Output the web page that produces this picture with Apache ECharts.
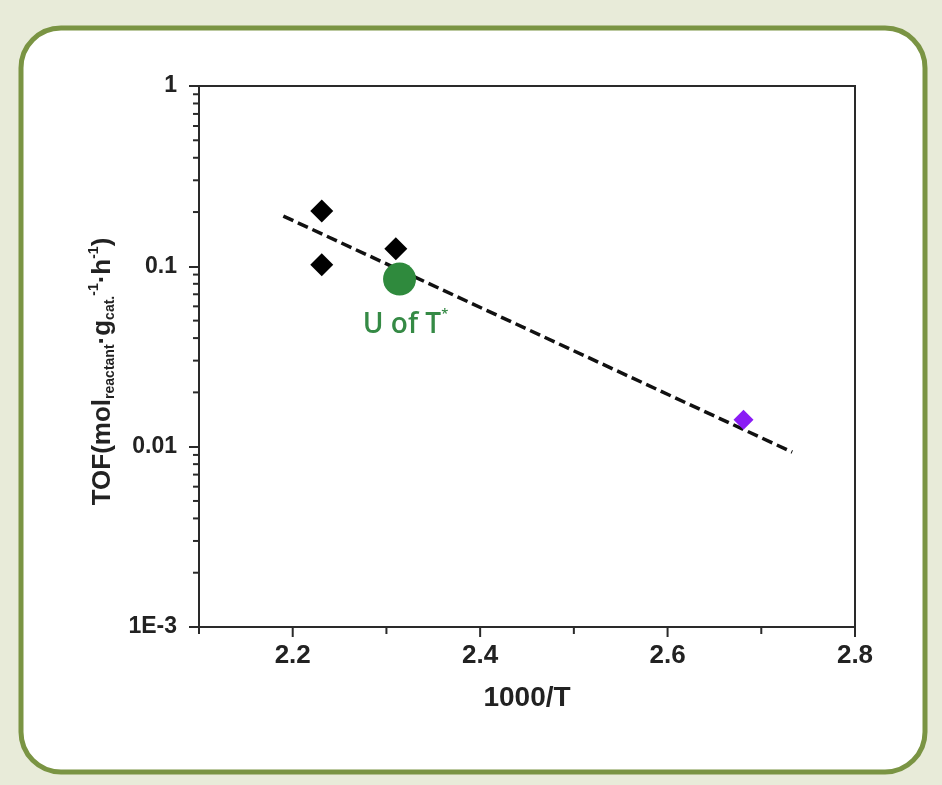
<!DOCTYPE html>
<html>
<head>
<meta charset="utf-8">
<script src="https://cdn.jsdelivr.net/npm/echarts@6/dist/echarts.min.js"></script>
<style>
html,body{margin:0;padding:0;background:#e8ebd9;}
#chart{width:942px;height:785px;}
</style>
</head>
<body>
<div id="chart"></div>
<script>
// ---- data ----
var blackX = [2.231, 2.231, 2.310];
var blackY = [0.203, 0.102, 0.125];
var greenX = [2.314];
var greenY = [0.085];
var purpleX = [2.681];
var purpleY = [0.0141];
var fitX = [2.190, 2.733];
var fitY = [0.190, 0.00933];
var xMajorTicks = [2.2, 2.4, 2.6, 2.8];
var xMinorTicks = [2.1, 2.3, 2.5, 2.7];
var yTickValues = [1, 0.1, 0.01, 0.001];
var yTickLabels = ['1', '0.1', '0.01', '1E-3'];
var yMinorValues = [];
[0.001, 0.01, 0.1].forEach(function (d) {
  for (var k = 2; k <= 9; k++) yMinorValues.push(d * k);
});

function zip(a, b) { return a.map(function (v, i) { return [v, b[i]]; }); }

var chart = echarts.init(document.getElementById('chart'), null, {renderer: 'canvas'});
var FONT = 'Liberation Sans';
var AX = '#2a2a2a';

var tickData = []
  .concat(xMajorTicks.map(function (v) { return [v, 0.001, 10, 0]; }))
  .concat(xMinorTicks.map(function (v) { return [v, 0.001, 7, 0]; }))
  .concat(yMinorValues.map(function (v) { return [2.1, v, 6, 1]; }));

var option = {
  backgroundColor: '#e8ebd9',
  animation: false,
  textStyle: {fontFamily: FONT},
  graphic: {
    elements: [{
      type: 'rect',
      z: -100,
      silent: true,
      shape: {x: 21, y: 28, width: 904, height: 744, r: 40},
      style: {fill: '#ffffff', stroke: '#7a9443', lineWidth: 5}
    }]
  },
  grid: {
    left: 199, right: 87, top: 86, bottom: 158,
    show: true, borderColor: AX, borderWidth: 2, backgroundColor: 'transparent'
  },
  xAxis: {
    type: 'value', min: 2.1, max: 2.8, interval: 0.1,
    name: '1000/T', nameLocation: 'middle', nameGap: 57,
    nameTextStyle: {fontFamily: FONT, fontWeight: 'bold', fontSize: 28, color: '#222'},
    axisLine: {show: true, lineStyle: {color: AX, width: 2}},
    axisTick: {show: false},
    splitLine: {show: false},
    axisLabel: {
      margin: 16, fontFamily: FONT, fontWeight: 'bold', fontSize: 26, color: '#222',
      formatter: function (v) {
        var r = Math.round(v * 10) / 10;
        for (var i = 0; i < xMajorTicks.length; i++) {
          if (Math.abs(xMajorTicks[i] - r) < 1e-6) return r.toFixed(1);
        }
        return '';
      }
    }
  },
  yAxis: {
    type: 'log', logBase: 10, min: 0.001, max: 1,
    name: '{m|TOF(mol}{sub|reactant}{m|·g}{sub|cat.}{sup|-1}{m|·h}{sup|-1}{m|)}',
    nameLocation: 'middle', nameGap: 70, nameRotate: 90,
    nameTextStyle: {
      padding: [0, 30, 0, 0],
      rich: {
        m: {fontFamily: FONT, fontWeight: 'bold', fontSize: 26, color: '#222', lineHeight: 30},
        sub: {fontFamily: FONT, fontWeight: 'bold', fontSize: 14, color: '#222', lineHeight: 14, verticalAlign: 'bottom'},
        sup: {fontFamily: FONT, fontWeight: 'bold', fontSize: 14, color: '#222', lineHeight: 14, verticalAlign: 'top'}
      }
    },
    axisLine: {show: true, lineStyle: {color: AX, width: 2}},
    axisTick: {show: true, length: 10, lineStyle: {color: AX, width: 2}},
    splitLine: {show: false},
    axisLabel: {
      margin: 22, fontFamily: FONT, fontWeight: 'bold', fontSize: 23, color: '#222',
      formatter: function (v) {
        for (var i = 0; i < yTickValues.length; i++) {
          if (Math.abs(Math.log10(yTickValues[i]) - Math.log10(v)) < 1e-6) return yTickLabels[i];
        }
        return '';
      }
    }
  },
  series: [
    {
      type: 'custom',
      silent: true,
      clip: false,
      data: tickData,
      renderItem: function (params, api) {
        var p = api.coord([api.value(0), api.value(1)]);
        var len = api.value(2);
        var shape = api.value(3) === 1
          ? {x1: p[0] - len, y1: p[1], x2: p[0], y2: p[1]}
          : {x1: p[0], y1: p[1], x2: p[0], y2: p[1] + len};
        return {type: 'line', shape: shape, style: {stroke: AX, lineWidth: 2}};
      },
      z: 5
    },
    {
      type: 'line',
      data: zip(fitX, fitY),
      symbol: 'none',
      lineStyle: {color: '#111', width: 3.5, type: [11, 5]},
      z: 3
    },
    {
      type: 'scatter',
      data: zip(blackX, blackY),
      symbol: 'diamond',
      symbolSize: 23,
      itemStyle: {color: '#000', opacity: 1},
      z: 4
    },
    {
      type: 'scatter',
      data: zip(purpleX, purpleY),
      symbol: 'diamond',
      symbolSize: 20,
      itemStyle: {color: '#8a1cf5', opacity: 1},
      z: 4
    },
    {
      type: 'scatter',
      data: zip(greenX, greenY),
      symbol: 'circle',
      symbolSize: 33,
      itemStyle: {color: '#2f8a3d', opacity: 1},
      z: 4,
      label: {
        show: true, position: 'bottom', distance: 12, offset: [6, 0],
        formatter: '{a|U of T}{s|*}',
        rich: {
          a: {fontFamily: 'Open Sans', fontWeight: 600, fontSize: 28, color: '#358a45', lineHeight: 34},
          s: {fontFamily: 'Open Sans', fontWeight: 600, fontSize: 13, color: '#358a45', lineHeight: 14, verticalAlign: 'top'}
        }
      }
    }
  ]
};
chart.setOption(option);
</script>
</body>
</html>
